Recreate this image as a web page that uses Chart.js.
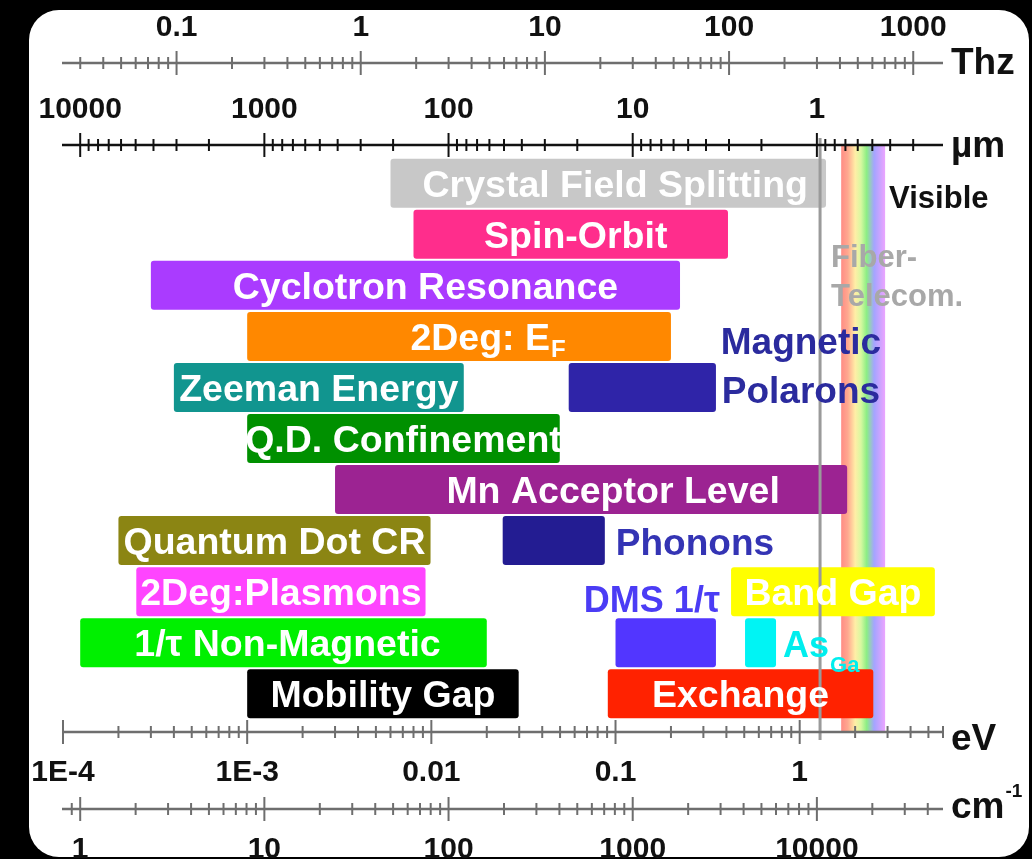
<!DOCTYPE html>
<html><head><meta charset="utf-8">
<script src="https://cdn.jsdelivr.net/npm/chart.js@4.4.1/dist/chart.umd.min.js"></script>
<style>html,body{margin:0;padding:0;background:#000;overflow:hidden}canvas{display:block}</style>
</head><body>
<canvas id="c" width="1032" height="859"></canvas>
<script>
// ---------------- DATA (energies in eV) ----------------
const barNames = ["Crystal Field Splitting","Spin-Orbit","Cyclotron Resonance","2Deg: E_F","Zeeman Energy","Magnetic Polarons","Q.D. Confinement","Mn Acceptor Level","Quantum Dot CR","Phonons","2Deg:Plasmons","Band Gap","1/τ Non-Magnetic","DMS 1/τ","As_Ga","Mobility Gap","Exchange"];
const barRows  = [0,1,2,3,4,4,5,6,7,7,8,8,9,9,9,10,10];
const barLowEV  = [6.0e-3, 8.0e-3, 3.0e-4, 1.0e-3, 4.0e-4, 0.0557, 1.0e-3, 3.0e-3, 2.0e-4, 0.0244, 2.5e-4, 0.424, 1.24e-4, 0.100, 0.505, 1.0e-3, 0.0908];
const barHighEV = [1.39,   0.408,  0.224,  0.200,  0.015,  0.351,  0.0498, 1.81,   0.0099, 0.0875, 9.3e-3, 5.42,  0.020,   0.351, 0.744, 0.0298, 2.51];

const evRange = [1e-4, 6];
const visibleBandEV = [1.68, 2.91];
const fiberLineEV = 1.29;

const thzTicks = [0.1, 1, 10, 100, 1000];
const thzTickLabels = ["0.1","1","10","100","1000"];
const umTicks = [10000, 1000, 100, 10, 1];
const umTickLabels = ["10000","1000","100","10","1"];
const evTicks = [1e-4, 1e-3, 0.01, 0.1, 1];
const evTickLabels = ["1E-4","1E-3","0.01","0.1","1"];
const cmTicks = [1, 10, 100, 1000, 10000];
const cmTickLabels = ["1","10","100","1000","10000"];

// unit conversions
const EV_PER_THZ = 4.13567e-3;
const HC_EV_UM = 1.23984;
const EV_PER_CM = 1.23984e-4;

// ---------------- STYLE ----------------
const FONT = "'Liberation Sans', Arial, sans-serif";
const barColors = ['#c8c8c8','#ff2d8c','#aa3bff','#ff8800','#11958f','#2f24a8','#009000','#9c2392','#8b8513','#231c92','#ff44ff','#ffff00','#00f000','#5236ff','#00f4f4','#000000','#ff2200'];
const labelStyle = {
  "Crystal Field Splitting": {dx: 7},
  "Spin-Orbit": {dx: 5},
  "Cyclotron Resonance": {dx: 10},
  "2Deg: E_F": {dx: 29},
  "Mn Acceptor Level": {dx: 22},
  "1/τ Non-Magnetic": {dx: 4},
  "Magnetic Polarons": {mode: 'right2', color: '#2b2b9e'},
  "Phonons": {mode: 'right', color: '#3434b4'},
  "DMS 1/τ": {mode: 'above', color: '#4b3cf5'},
  "As_Ga": {mode: 'right', color: '#00eeee', gap: 7}
};

function buildLogTicks(min, max, majors) {
  const out = [];
  const lo = Math.floor(Math.log10(min)), hi = Math.ceil(Math.log10(max));
  for (let d = lo; d <= hi; d++) {
    for (let m = 1; m <= 9; m++) {
      const v = m * Math.pow(10, d);
      if (v < min * (1 - 1e-9) || v > max * (1 + 1e-9)) continue;
      const major = majors.some(t => Math.abs(Math.log10(t) - Math.log10(v)) < 1e-9);
      out.push({value: v, major: major});
    }
  }
  return out;
}
function labelFor(majors, labels) {
  return function(value) {
    const i = majors.findIndex(t => Math.abs(Math.log10(t) - Math.log10(value)) < 1e-9);
    return i >= 0 ? labels[i] : '';
  };
}
function xAxis(position, weight, min, max, majors, labels, height, reverse) {
  return {
    type: 'logarithmic', position: position, weight: weight, min: min, max: max, reverse: !!reverse,
    offset: false,
    grid: {display: true, drawOnChartArea: false, drawTicks: false, tickLength: 0, offset: false},
    border: {display: false},
    afterBuildTicks: s => { s.ticks = buildLogTicks(min, max, majors); },
    afterFit: s => { s.height = height; },
    ticks: {
      autoSkip: false, maxRotation: 0, minRotation: 0, padding: position === 'top' ? 17 : 23, color: '#111',
      font: {family: FONT, size: 30, weight: 'bold', lineHeight: 1.2},
      callback: labelFor(majors, labels)
    }
  };
}

const bgPlugin = {
  id: 'bg',
  beforeDraw(chart) {
    const ctx = chart.ctx;
    ctx.save();
    ctx.fillStyle = '#000';
    ctx.fillRect(0, 0, chart.width, chart.height);
    ctx.fillStyle = '#fff';
    ctx.beginPath();
    ctx.roundRect(29, 10, 1000, 847, 30);
    ctx.fill();
    ctx.restore();
  }
};

const rainbowPlugin = {
  id: 'rainbow',
  beforeDatasetsDraw(chart) {
    const ctx = chart.ctx, ca = chart.chartArea, xs = chart.scales.x;
    const x1 = xs.getPixelForValue(visibleBandEV[0]), x2 = xs.getPixelForValue(visibleBandEV[1]);
    const g = ctx.createLinearGradient(x1, 0, x2, 0);
    g.addColorStop(0.0, '#ff8c84');
    g.addColorStop(0.15, '#ffa890');
    g.addColorStop(0.32, '#ffeea6');
    g.addColorStop(0.45, '#d8f8a0');
    g.addColorStop(0.58, '#8cee84');
    g.addColorStop(0.75, '#a4a4ff');
    g.addColorStop(1.0, '#eca4ff');
    ctx.save();
    ctx.fillStyle = g;
    ctx.fillRect(x1, ca.top, x2 - x1, ca.bottom - ca.top);
    ctx.restore();
  }
};

function drawRich(ctx, main, sub, x, base, align, size, subSize, subDy, color) {
  ctx.font = 'bold ' + size + 'px ' + FONT;
  const wm = ctx.measureText(main).width;
  let ws = 0;
  if (sub) { ctx.font = 'bold ' + subSize + 'px ' + FONT; ws = ctx.measureText(sub).width + 1; }
  const total = wm + ws;
  let sx = x;
  if (align === 'center') sx = x - total / 2;
  else if (align === 'right') sx = x - total;
  ctx.fillStyle = color;
  ctx.textAlign = 'left';
  ctx.textBaseline = 'alphabetic';
  ctx.font = 'bold ' + size + 'px ' + FONT;
  ctx.fillText(main, sx, base);
  if (sub) {
    ctx.font = 'bold ' + subSize + 'px ' + FONT;
    ctx.fillText(sub, sx + wm + 1, base + subDy);
  }
}

const labelPlugin = {
  id: 'labels',
  afterDatasetsDraw(chart) {
    const ctx = chart.ctx, ca = chart.chartArea, xs = chart.scales.x, ys = chart.scales.y;
    ctx.save();
    // fiber telecom line
    const fx = xs.getPixelForValue(fiberLineEV);
    ctx.strokeStyle = '#9a9a9a';
    ctx.lineWidth = 3;
    ctx.beginPath();
    ctx.moveTo(fx, ca.top - 7);
    ctx.lineTo(fx, ca.bottom + 8);
    ctx.stroke();

    const meta = chart.getDatasetMeta(0);
    meta.data.forEach((bar, i) => {
      const name = barNames[i];
      const st = labelStyle[name] || {};
      const left = Math.min(bar.x, bar.base), right = Math.max(bar.x, bar.base);
      const cy = bar.y, top = cy - bar.height / 2;
      const parts = name.split('_');
      const main = parts[0], sub = parts[1];
      const mode = st.mode || 'inside';
      if (mode === 'inside') {
        drawRich(ctx, main, sub, (left + right) / 2 + (st.dx || 0), cy + 13.5, 'center', 37.5, 24, 7, '#ffffff');
      } else if (mode === 'right') {
        drawRich(ctx, main, sub, right + (st.gap || 11), cy + 14, 'left', sub ? 36 : 37, 22, 15, st.color);
      } else if (mode === 'right2') {
        const w = main.split(' ');
        drawRich(ctx, w[0], null, right + 85, cy - 33, 'center', 37, 0, 0, st.color);
        drawRich(ctx, w[1], null, right + 85, cy + 16, 'center', 37, 0, 0, st.color);
      } else if (mode === 'above') {
        drawRich(ctx, main, null, right + 4, top - 6, 'right', 36, 0, 0, st.color);
      }
    });

    // Visible / Fiber-Telecom annotations
    const vx = xs.getPixelForValue(visibleBandEV[1]);
    drawRich(ctx, 'Visible', null, vx + 4, ys.getPixelForValue(0) + 25, 'left', 31, 0, 0, '#111');
    drawRich(ctx, 'Fiber-', null, fx + 11, ca.top + 122, 'left', 31, 0, 0, '#a8a8a8');
    drawRich(ctx, 'Telecom.', null, fx + 11, ca.top + 161, 'left', 31, 0, 0, '#a8a8a8');
    ctx.restore();
  }
};

const axisPlugin = {
  id: 'axes',
  afterDraw(chart) {
    const ctx = chart.ctx, ca = chart.chartArea;
    const specs = [
      {id: 'xthz', edge: 'bottom', color: '#6e6e6e', unit: 'Thz', dy: 11},
      {id: 'xum', edge: 'bottom', color: '#111', unit: 'µm', dy: 12},
      {id: 'x', edge: 'top', color: '#6e6e6e', unit: 'eV', dy: 18},
      {id: 'xcm', edge: 'top', color: '#6e6e6e', unit: 'cm', sup: '-1', dy: 9}
    ];
    ctx.save();
    specs.forEach(sp => {
      const s = chart.scales[sp.id];
      const y = sp.edge === 'bottom' ? s.bottom : s.top;
      ctx.strokeStyle = sp.color;
      ctx.lineWidth = 2.5;
      ctx.beginPath();
      ctx.moveTo(ca.left - 1, y);
      ctx.lineTo(ca.right, y);
      ctx.stroke();
      ctx.lineWidth = 2;
      s.ticks.forEach(t => {
        const x = s.getPixelForValue(t.value);
        if (x < ca.left - 1 || x > ca.right + 1) return;
        const h = t.major ? 12 : 6;
        ctx.beginPath();
        ctx.moveTo(x, y - h);
        ctx.lineTo(x, y + h);
        ctx.stroke();
      });
      ctx.fillStyle = '#111';
      ctx.textAlign = 'left';
      ctx.textBaseline = 'alphabetic';
      ctx.font = 'bold 37px ' + FONT;
      ctx.fillText(sp.unit, ca.right + 8, y + sp.dy);
      if (sp.sup) {
        const w = ctx.measureText(sp.unit).width;
        ctx.font = 'bold 19px ' + FONT;
        ctx.fillText(sp.sup, ca.right + 8 + w + 1, y - 12);
      }
    });
    ctx.restore();
  }
};

Chart.defaults.font.family = FONT;

new Chart(document.getElementById('c'), {
  type: 'bar',
  data: {
    labels: barNames,
    datasets: [{
      data: barRows.map((r, i) => ({x: [barLowEV[i], barHighEV[i]], y: r})),
      backgroundColor: barColors,
      borderWidth: 0,
      borderRadius: 3,
      borderSkipped: false,
      barPercentage: 0.96,
      categoryPercentage: 1.0
    }]
  },
  options: {
    indexAxis: 'y',
    responsive: false,
    animation: false,
    devicePixelRatio: 1,
    layout: {padding: {left: 63, right: 89, top: 0, bottom: 0}},
    plugins: {legend: {display: false}, tooltip: {enabled: false}},
    scales: {
      x: xAxis('bottom', 0, evRange[0], evRange[1], evTicks, evTickLabels, 77),
      xcm: xAxis('bottom', 1, evRange[0] / EV_PER_CM, evRange[1] / EV_PER_CM, cmTicks, cmTickLabels, 50),
      xum: xAxis('top', 0, HC_EV_UM / evRange[1], HC_EV_UM / evRange[0], umTicks, umTickLabels, 82, true),
      xthz: xAxis('top', 1, evRange[0] / EV_PER_THZ, evRange[1] / EV_PER_THZ, thzTicks, thzTickLabels, 63),
      y: {
        type: 'linear', min: -0.75, max: 10.75, reverse: true, display: false, offset: false,
        grid: {offset: false},
        afterBuildTicks: s => { s.ticks = Array.from(new Set(barRows)).map(v => ({value: v})); }
      }
    }
  },
  plugins: [bgPlugin, rainbowPlugin, labelPlugin, axisPlugin]
});
</script>
</body></html>
